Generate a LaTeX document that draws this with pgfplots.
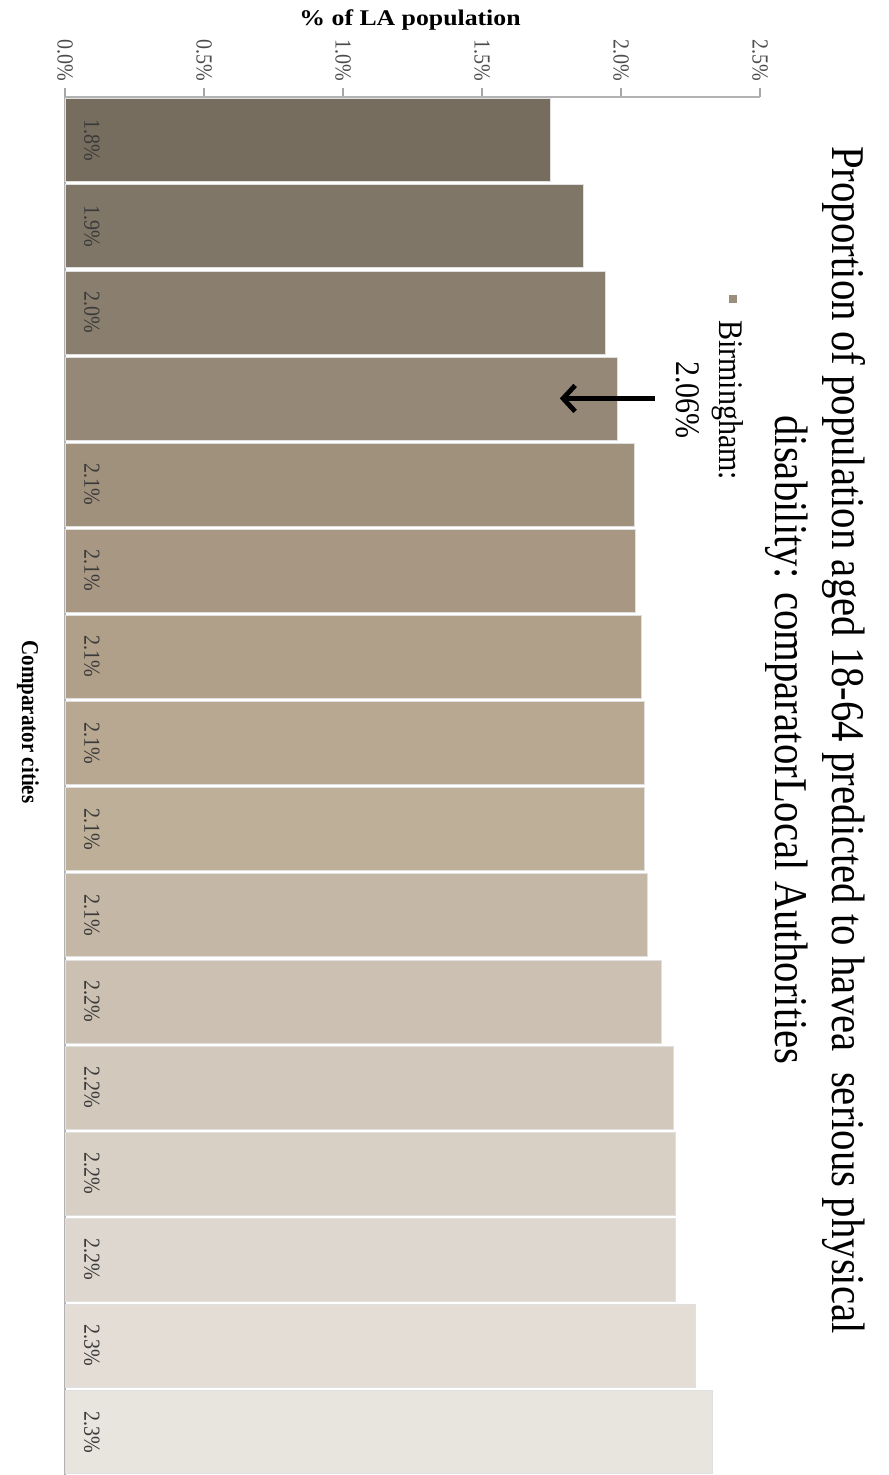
\documentclass[border=0pt]{standalone}
\usepackage{fontspec}
\setmainfont{Liberation Serif}
\usepackage{graphicx}
\usepackage{pgfplots}
\pgfplotsset{compat=1.18}
\usetikzlibrary{arrows.meta}
\definecolor{c1}{HTML}{776D5F}
\definecolor{c2}{HTML}{807668}
\definecolor{c3}{HTML}{8A7F6F}
\definecolor{c4}{HTML}{958877}
\definecolor{c5}{HTML}{A0917D}
\definecolor{c6}{HTML}{A89883}
\definecolor{c7}{HTML}{B0A08A}
\definecolor{c8}{HTML}{B8A891}
\definecolor{c9}{HTML}{BEAF99}
\definecolor{c10}{HTML}{C4B7A5}
\definecolor{c11}{HTML}{CBC0B1}
\definecolor{c12}{HTML}{D2C8BB}
\definecolor{c13}{HTML}{D8D0C5}
\definecolor{c14}{HTML}{DED7CF}
\definecolor{c15}{HTML}{E3DDD6}
\definecolor{c16}{HTML}{E8E4DE}
\definecolor{legkey}{HTML}{9C8E7C}
\definecolor{labgray}{HTML}{3A3A3A}
\newcommand{\vs}[1]{\scalebox{1}[1.15]{#1}}
\newcommand{\hs}[1]{\scalebox{1.15}[1]{#1}}
\pgfplotsset{mybar/.style={xbar, bar width=41.5pt, bar shift=0pt, draw=black!12, line width=0.3pt, fill=#1}}
\begin{document}
\begin{tikzpicture}[x=1pt,y=1pt]
\useasboundingbox (0,0) rectangle (444,-737.5);
\begin{axis}[
  at={(32.5pt,-48.5pt)}, anchor=north west,
  scale only axis, width=347.5pt, height=689pt,
  xmin=0, xmax=2.5, ymin=0.5, ymax=16.5,
  axis x line*=top, axis y line*=left,
  axis line style={draw=black!30, line width=0.8pt},
  xtick={0,0.5,1,1.5,2,2.5},
  xticklabels={\vs{0.0\%},\vs{0.5\%},\vs{1.0\%},\vs{1.5\%},\vs{2.0\%},\vs{2.5\%}},
  ytick=\empty,
  tick align=outside, major tick length=4.5pt,
  tick style={draw=black!35, line width=0.6pt},
  xticklabel style={rotate=-90, anchor=east, font=\fontsize{10}{12}\selectfont, text=black!70},
  clip=false,
]
\addplot[mybar=c1] coordinates {(1.745,16)};
\addplot[mybar=c2] coordinates {(1.864,15)};
\addplot[mybar=c3] coordinates {(1.943,14)};
\addplot[mybar=c4] coordinates {(1.987,13)};
\addplot[mybar=c5] coordinates {(2.047,12)};
\addplot[mybar=c6] coordinates {(2.052,11)};
\addplot[mybar=c7] coordinates {(2.072,10)};
\addplot[mybar=c8] coordinates {(2.083,9)};
\addplot[mybar=c9] coordinates {(2.083,8)};
\addplot[mybar=c10] coordinates {(2.094,7)};
\addplot[mybar=c11] coordinates {(2.144,6)};
\addplot[mybar=c12] coordinates {(2.187,5)};
\addplot[mybar=c13] coordinates {(2.194,4)};
\addplot[mybar=c14] coordinates {(2.194,3)};
\addplot[mybar=c15] coordinates {(2.268,2)};
\addplot[mybar=c16] coordinates {(2.330,1)};
\begin{scope}[every node/.style={rotate=-90, font=\fontsize{10}{12}\selectfont, text=labgray}]
\node at (axis cs:0.097,16) {\vs{1.8\%}};
\node at (axis cs:0.097,15) {\vs{1.9\%}};
\node at (axis cs:0.097,14) {\vs{2.0\%}};
\node at (axis cs:0.097,12) {\vs{2.1\%}};
\node at (axis cs:0.097,11) {\vs{2.1\%}};
\node at (axis cs:0.097,10) {\vs{2.1\%}};
\node at (axis cs:0.097,9) {\vs{2.1\%}};
\node at (axis cs:0.097,8) {\vs{2.1\%}};
\node at (axis cs:0.097,7) {\vs{2.1\%}};
\node at (axis cs:0.097,6) {\vs{2.2\%}};
\node at (axis cs:0.097,5) {\vs{2.2\%}};
\node at (axis cs:0.097,4) {\vs{2.2\%}};
\node at (axis cs:0.097,3) {\vs{2.2\%}};
\node at (axis cs:0.097,2) {\vs{2.3\%}};
\node at (axis cs:0.097,1) {\vs{2.3\%}};
\end{scope}
\draw[line width=2.4pt, -{Straight Barb[length=6pt,width=13pt,line width=2.4pt]}] (axis cs:2.122,13) -- (axis cs:1.78,13);
\end{axis}
\node[rotate=-90, anchor=base, font=\fontsize{20.4}{24}\selectfont] at (416,-370) {\vs{Proportion of population aged 18-64 predicted to havea\ \ serious physical}};
\node[rotate=-90, anchor=base, font=\fontsize{20.4}{24}\selectfont] at (387.5,-370) {\vs{disability: comparatorLocal Authorities}};
\node[rotate=-90, font=\bfseries\fontsize{10.5}{12}\selectfont] at (14,-361) {\vs{Comparator cities}};
\node[font=\bfseries\fontsize{11.2}{13}\selectfont] at (205,-10) {\hs{\% of LA population}};
\fill[legkey] (364.5,-147.5) rectangle (368.5,-151.5);
\node[rotate=-90, anchor=base, font=\fontsize{15}{18}\selectfont] at (359.5,-200) {\vs{Birmingham:}};
\node[rotate=-90, anchor=base, font=\fontsize{15}{18}\selectfont] at (338,-200) {\vs{2.06\%}};
\end{tikzpicture}
\end{document}
